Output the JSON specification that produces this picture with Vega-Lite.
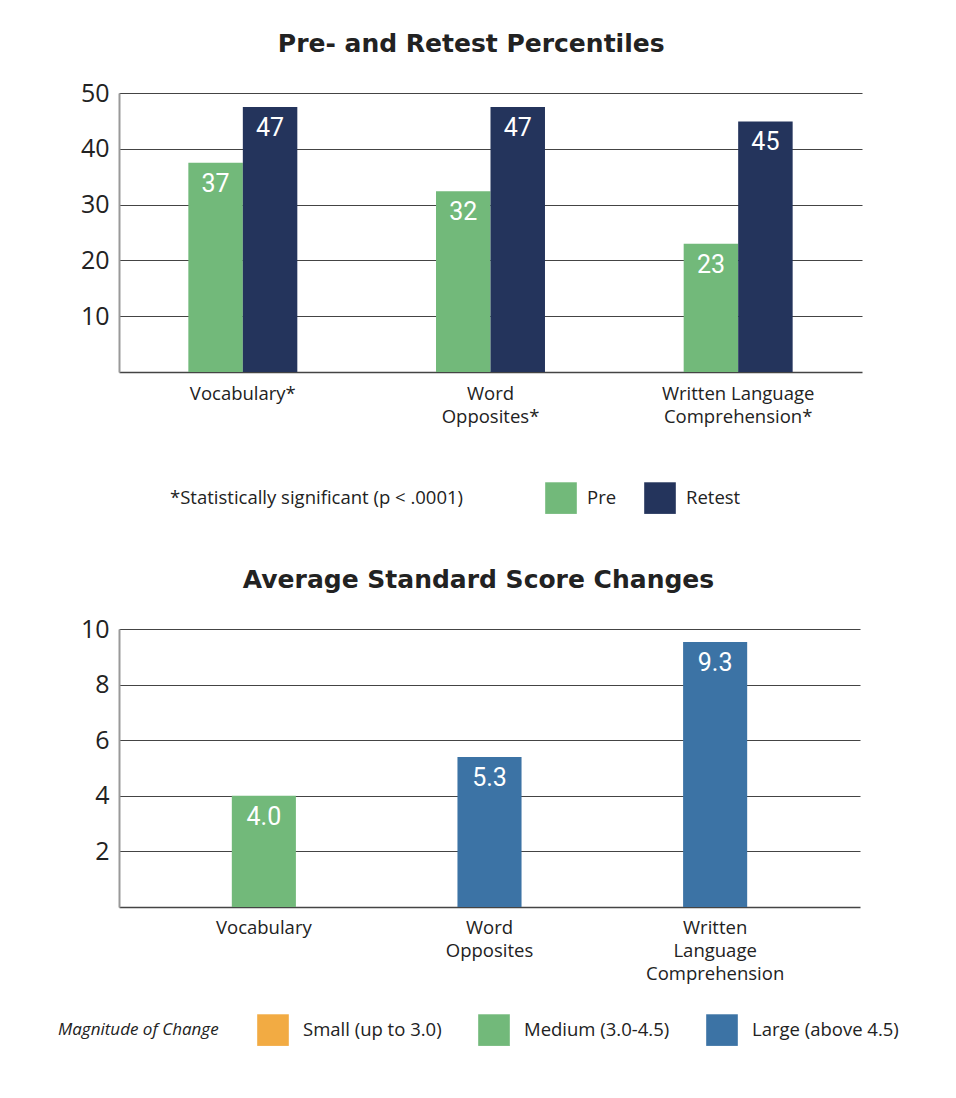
{
  "$schema": "https://vega.github.io/schema/vega-lite/v6.json",
  "background": "white",
  "padding": {"left": 58, "top": 32, "right": 90, "bottom": 20},
  "config": {
    "font": "Open Sans",
    "view": {"stroke": null},
    "title": {"font": "DejaVu Sans", "fontSize": 25, "fontWeight": "bold", "color": "#222222", "anchor": "middle", "offset": 24, "frame": "bounds"},
    "axis": {"labelFont": "Open Sans", "labelColor": "#222222", "tickSize": 0, "titleFontSize": 0}
  },
  "spacing": 54,
  "vconcat": [
    {
      "title": "Pre- and Retest Percentiles",
      "width": 743,
      "height": 279,
      "data": {"values": [
        {"measure": "Vocabulary*", "series": "Pre", "value": 37.5, "label": "37"},
        {"measure": "Vocabulary*", "series": "Retest", "value": 47.5, "label": "47"},
        {"measure": "Word|Opposites*", "series": "Pre", "value": 32.4, "label": "32"},
        {"measure": "Word|Opposites*", "series": "Retest", "value": 47.5, "label": "47"},
        {"measure": "Written Language|Comprehension*", "series": "Pre", "value": 23.0, "label": "23"},
        {"measure": "Written Language|Comprehension*", "series": "Retest", "value": 44.9, "label": "45"}
      ]},
      "encoding": {
        "x": {"field": "measure", "type": "nominal", "sort": null, "title": null,
          "scale": {"paddingInner": 0.56, "paddingOuter": 0.28},
          "axis": {"labelAngle": 0, "labelFontSize": 18.5, "labelPadding": 12, "labelLineHeight": 23, "labelExpr": "split(datum.label, '|')", "domainColor": "#444444", "domainWidth": 1.5, "labelBaseline": "top"}},
        "xOffset": {"field": "series", "type": "nominal", "sort": ["Pre", "Retest"], "scale": {"paddingInner": 0}},
        "y": {"field": "value", "type": "quantitative", "title": null,
          "scale": {"domain": [0, 50], "nice": false},
          "axis": {"values": [10, 20, 30, 40, 50], "labelFontSize": 25, "labelPadding": 10, "gridColor": "#444444", "gridWidth": 1.2, "domainColor": "#999999", "domainWidth": 2}}
      },
      "layer": [
        {
          "mark": {"type": "bar"},
          "encoding": {
            "color": {"field": "series", "type": "nominal",
              "scale": {"domain": ["Pre", "Retest"], "range": ["#72b97a", "#24345c"]},
              "legend": {"orient": "none", "legendX": 51, "legendY": 389, "direction": "horizontal",
                "title": "*Statistically significant (p < .0001)", "titleOrient": "left", "titleLimit": 500, "titleFontSize": 18.5, "titleFontWeight": "normal", "titleFont": "Open Sans", "titleColor": "#222222", "titlePadding": 81, "titleBaseline": "middle",
                "symbolType": "square", "symbolSize": 1000, "symbolStrokeWidth": 0, "symbolOpacity": 1,
                "labelFontSize": 18.5, "labelFont": "Open Sans", "labelColor": "#222222", "labelOffset": 10, "columnPadding": 27}}
          }
        },
        {
          "mark": {"type": "text", "baseline": "top", "dy": 9, "color": "white", "font": "Roboto", "fontSize": 25},
          "encoding": {"text": {"field": "label"}}
        }
      ]
    },
    {
      "title": "Average Standard Score Changes",
      "width": 741,
      "height": 278,
      "data": {"values": [
        {"measure": "Vocabulary", "magnitude": "Medium (3.0-4.5)", "value": 4.0, "label": "4.0"},
        {"measure": "Word|Opposites", "magnitude": "Large (above 4.5)", "value": 5.4, "label": "5.3"},
        {"measure": "Written|Language|Comprehension", "magnitude": "Large (above 4.5)", "value": 9.53, "label": "9.3"}
      ]},
      "encoding": {
        "x": {"field": "measure", "type": "nominal", "sort": null, "title": null,
          "scale": {"paddingInner": 0.716, "paddingOuter": 0.5},
          "axis": {"labelAngle": 0, "labelFontSize": 18.5, "labelPadding": 11, "labelLineHeight": 23, "labelExpr": "split(datum.label, '|')", "domainColor": "#444444", "domainWidth": 1.5, "labelBaseline": "top"}},
        "y": {"field": "value", "type": "quantitative", "title": null,
          "scale": {"domain": [0, 10], "nice": false},
          "axis": {"values": [2, 4, 6, 8, 10], "labelFontSize": 25, "labelPadding": 10, "gridColor": "#444444", "gridWidth": 1.2, "domainColor": "#999999", "domainWidth": 2}}
      },
      "layer": [
        {
          "mark": {"type": "bar"},
          "encoding": {
            "color": {"field": "magnitude", "type": "nominal",
              "scale": {"domain": ["Small (up to 3.0)", "Medium (3.0-4.5)", "Large (above 4.5)"], "range": ["#f2ab43", "#72b97a", "#3c73a5"]},
              "legend": {"orient": "none", "legendX": -61, "legendY": 385, "direction": "horizontal",
                "title": "Magnitude of Change", "titleOrient": "left", "titleLimit": 300, "titleFontSize": 17, "titleFontWeight": "normal", "titleFontStyle": "italic", "titleFont": "Open Sans", "titleColor": "#222222", "titlePadding": 38, "titleBaseline": "middle",
                "symbolType": "square", "symbolSize": 1000, "symbolStrokeWidth": 0, "symbolOpacity": 1,
                "labelFontSize": 18.5, "labelFont": "Open Sans", "labelColor": "#222222", "labelOffset": 14, "columnPadding": 36}}
          }
        },
        {
          "mark": {"type": "text", "baseline": "top", "dy": 9, "color": "white", "font": "Roboto", "fontSize": 25},
          "encoding": {"text": {"field": "label"}}
        }
      ]
    }
  ],
  "resolve": {"scale": {"color": "independent", "x": "independent", "y": "independent"}, "legend": {"color": "independent"}}
}
